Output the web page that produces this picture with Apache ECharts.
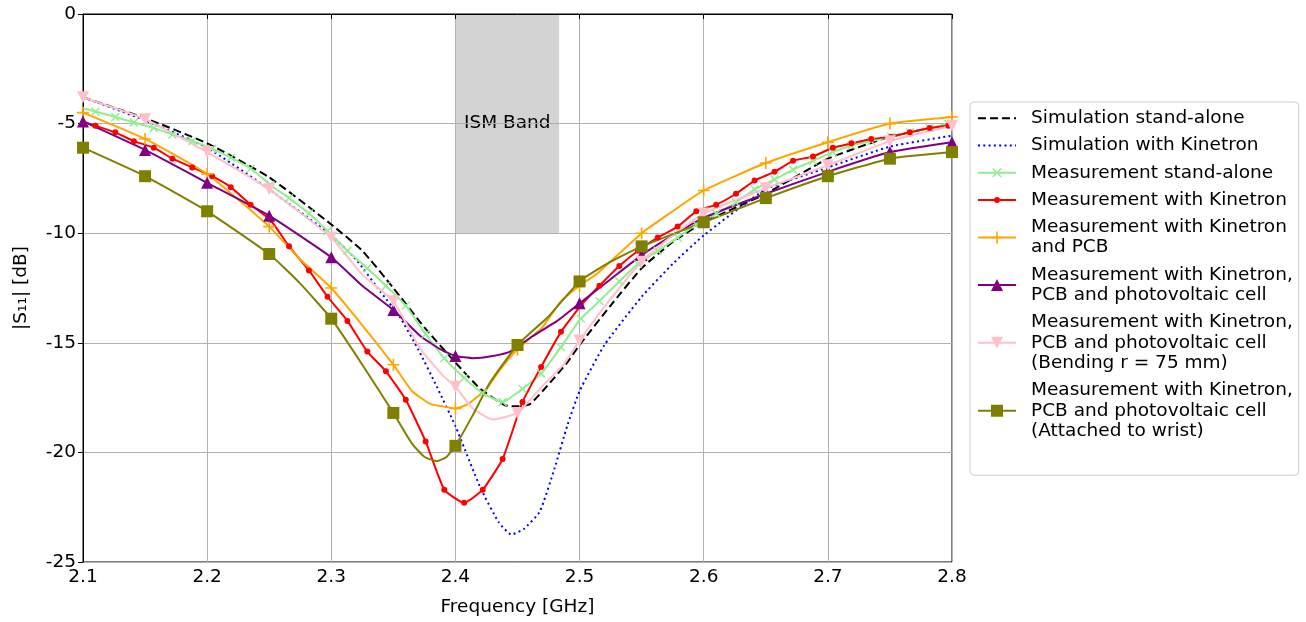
<!DOCTYPE html>
<html>
<head>
<meta charset="utf-8">
<script src="https://cdn.jsdelivr.net/npm/echarts@6/dist/echarts.min.js"></script>
<style>html,body{margin:0;padding:0;background:#fff;}#chart{width:1306px;height:622px;}</style>
</head>
<body>
<div id="chart"></div>
<script>
// ---------------- data (frequency in GHz, |S11| in dB) ----------------
const seriesNames = [
  'Simulation stand-alone',
  'Simulation with Kinetron',
  'Measurement stand-alone',
  'Measurement with Kinetron',
  'Measurement with Kinetron\nand PCB',
  'Measurement with Kinetron,\nPCB and photovoltaic cell',
  'Measurement with Kinetron,\nPCB and photovoltaic cell\n(Bending r = 75 mm)',
  'Measurement with Kinetron,\nPCB and photovoltaic cell\n(Attached to wrist)'
];

const simStandFreq = [2.1, 2.15, 2.2, 2.25, 2.3, 2.325, 2.35, 2.375, 2.4, 2.42, 2.44, 2.45, 2.46, 2.475, 2.49, 2.5, 2.525, 2.55, 2.575, 2.6, 2.65, 2.7, 2.75, 2.8];
const simStandDb   = [-3.8, -4.75, -5.9, -7.45, -9.6, -10.8, -12.5, -14.3, -15.9, -17.1, -17.85, -17.9, -17.8, -16.9, -15.9, -15.1, -13.3, -11.6, -10.4, -9.5, -8.2, -6.6, -5.6, -5.0];

const simKinFreq = [2.1, 2.15, 2.2, 2.25, 2.3, 2.32, 2.34, 2.355, 2.37, 2.385, 2.4, 2.42, 2.435, 2.445, 2.455, 2.468, 2.48, 2.49, 2.5, 2.52, 2.55, 2.575, 2.6, 2.65, 2.7, 2.75, 2.8];
const simKinDb   = [-3.8, -4.85, -6.1, -8.0, -10.1, -11.2, -12.7, -13.8, -15.3, -17.0, -18.8, -21.6, -23.2, -23.75, -23.5, -22.7, -20.7, -18.8, -17.2, -15.1, -12.9, -11.4, -10.1, -8.0, -7.0, -6.05, -5.55];

// measured frequency points (stand-alone and with Kinetron)
const measFreq = [2.1, 2.110, 2.126, 2.141, 2.157, 2.172, 2.188, 2.204, 2.219, 2.235, 2.251, 2.266, 2.282, 2.297, 2.313, 2.329, 2.344, 2.360, 2.376, 2.391, 2.407, 2.422, 2.438, 2.454, 2.469, 2.485, 2.501, 2.516, 2.532, 2.547, 2.563, 2.579, 2.594, 2.610, 2.626, 2.641, 2.657, 2.672, 2.688, 2.704, 2.719, 2.735, 2.751, 2.766, 2.782, 2.797];
const measStandDb = [-4.3, -4.45, -4.7, -4.95, -5.2, -5.5, -5.8, -6.15, -6.55, -7.05, -7.8, -8.4, -9.1, -9.9, -10.8, -11.6, -12.4, -13.3, -14.6, -15.7, -16.6, -17.3, -17.7, -17.1, -16.4, -15.2, -13.9, -13.1, -12.2, -11.4, -10.8, -10.2, -9.6, -9.1, -8.6, -8.0, -7.55, -7.1, -6.7, -6.3, -6.0, -5.8, -5.6, -5.4, -5.2, -5.0];
const measKinDb   = [-4.9, -5.1, -5.4, -5.8, -6.1, -6.6, -7.0, -7.4, -7.9, -8.7, -9.4, -10.6, -11.7, -12.9, -14.0, -15.4, -16.3, -17.6, -19.5, -21.7, -22.3, -21.7, -20.3, -17.7, -16.1, -14.5, -13.3, -12.4, -11.5, -10.8, -10.2, -9.7, -9.0, -8.7, -8.2, -7.6, -7.2, -6.7, -6.5, -6.1, -5.9, -5.7, -5.6, -5.4, -5.2, -5.1];

const pcbFreq = [2.1, 2.15, 2.2, 2.25, 2.275, 2.3, 2.325, 2.35, 2.365, 2.38, 2.39, 2.4, 2.41, 2.425, 2.435, 2.45, 2.47, 2.485, 2.5, 2.515, 2.55, 2.575, 2.6, 2.65, 2.7, 2.75, 2.8];
const pcbDb   = [-4.5, -5.7, -7.3, -9.7, -11.2, -12.5, -14.2, -16.0, -17.2, -17.8, -17.9, -18.0, -17.8, -17.1, -16.3, -15.3, -14.3, -13.1, -12.4, -11.8, -10.0, -9.0, -8.05, -6.8, -5.85, -5.0, -4.7];

const pvFreq = [2.1, 2.15, 2.2, 2.25, 2.3, 2.325, 2.35, 2.372, 2.388, 2.4, 2.414, 2.43, 2.444, 2.462, 2.482, 2.5, 2.525, 2.55, 2.575, 2.6, 2.65, 2.7, 2.75, 2.8];
const pvDb   = [-4.9, -6.2, -7.7, -9.2, -11.1, -12.4, -13.5, -14.7, -15.3, -15.6, -15.7, -15.6, -15.4, -14.7, -14.0, -13.2, -12.1, -11.0, -10.1, -9.3, -8.2, -7.2, -6.3, -5.85];

const bendFreq = [2.1, 2.15, 2.2, 2.25, 2.3, 2.325, 2.35, 2.372, 2.39, 2.4, 2.414, 2.43, 2.45, 2.468, 2.487, 2.5, 2.525, 2.55, 2.575, 2.6, 2.65, 2.7, 2.75, 2.8];
const bendDb   = [-3.8, -4.8, -6.3, -8.0, -10.2, -11.9, -13.1, -15.3, -16.5, -17.0, -18.0, -18.5, -18.2, -17.1, -16.0, -14.9, -13.0, -11.3, -10.1, -9.1, -7.95, -6.9, -5.8, -5.1];

const wristFreq = [2.1, 2.15, 2.2, 2.25, 2.275, 2.3, 2.325, 2.35, 2.365, 2.375, 2.385, 2.393, 2.4, 2.414, 2.428, 2.45, 2.475, 2.5, 2.525, 2.55, 2.6, 2.65, 2.7, 2.75, 2.8];
const wristDb   = [-6.1, -7.4, -9.0, -10.95, -12.3, -13.9, -16.0, -18.2, -19.6, -20.2, -20.4, -20.2, -19.7, -18.3, -16.8, -15.1, -13.8, -12.2, -11.3, -10.6, -9.5, -8.4, -7.4, -6.6, -6.3];

const ismBand = [2.4, 2.4835];   // GHz
const ismLevels = [0, -10];      // dB
const ismLabel = 'ISM Band';

// ---------------- chart ----------------
const FONT = 'DejaVu Sans';
const FS = 18.5;
const every005 = f => Math.abs(f * 20 - Math.round(f * 20)) < 1e-6;
const allButFirst = (f, i) => i > 0;
const none = () => false;

function build(freq, db, isMark) {
  return freq.map((f, i) => isMark(f, i) ? [f, db[i]] : { value: [f, db[i]], symbol: 'none' });
}

const plusPath = 'path://M-0.8,-6H0.8V6H-0.8Z M-6,-0.8H6V0.8H-6Z';
// small dot (diameter = half the symbol box)
const dotPath = 'path://M0,0L0.01,0L0,0.01Z M12,12L11.99,12L12,11.99Z M3,6A3,3,0,1,0,9,6A3,3,0,1,0,3,6Z';

function lineSeries(name, freq, db, isMark, color, extra) {
  return Object.assign({
    type: 'line',
    name: name,
    data: build(freq, db, isMark),
    showSymbol: true,
    showAllSymbol: true,
    smooth: 0.15,
    lineStyle: { color: color, width: 2 },
    itemStyle: { color: color },
    symbol: 'none',
    emphasis: { disabled: true },
    silent: true
  }, extra || {});
}

const series = [
  lineSeries(seriesNames[0], simStandFreq, simStandDb, none, '#000000',
    { lineStyle: { color: '#000', width: 2, type: [8, 4] },
      markArea: {
        silent: true, z: -1,
        itemStyle: { color: '#d3d3d3' },
        label: { show: true, position: 'inside', color: '#000', fontFamily: FONT, fontSize: FS },
        data: [[{ name: ismLabel, xAxis: ismBand[0], yAxis: ismLevels[0] }, { xAxis: ismBand[1], yAxis: ismLevels[1] }]]
      } }),
  lineSeries(seriesNames[1], simKinFreq, simKinDb, none, '#0000ff',
    { lineStyle: { color: '#0000ff', width: 2, type: [2, 3.3] } }),
  lineSeries(seriesNames[2], measFreq, measStandDb, allButFirst, '#90ee90',
    { symbol: plusPath, symbolRotate: 45, symbolSize: 11 }),
  lineSeries(seriesNames[3], measFreq, measKinDb, allButFirst, '#ff0000',
    { symbol: dotPath, symbolSize: 12 }),
  lineSeries(seriesNames[4], pcbFreq, pcbDb, every005, '#ffa500',
    { symbol: plusPath, symbolSize: 12 }),
  lineSeries(seriesNames[5], pvFreq, pvDb, every005, '#800080',
    { symbol: 'triangle', symbolSize: 12 }),
  lineSeries(seriesNames[6], bendFreq, bendDb, every005, '#ffc0cb',
    { symbol: 'triangle', symbolRotate: 180, symbolSize: 12 }),
  lineSeries(seriesNames[7], wristFreq, wristDb, every005, '#808000',
    { symbol: 'rect', symbolSize: 12 })
];

const chart = echarts.init(document.getElementById('chart'), null, { renderer: 'canvas' });
chart.setOption({
  animation: false,
  backgroundColor: '#ffffff',
  textStyle: { fontFamily: FONT },
  grid: { left: 83, right: 354, top: 14, bottom: 58, show: true, borderColor: '#000', borderWidth: 1, backgroundColor: 'transparent' },
  xAxis: {
    type: 'value', min: 2.1, max: 2.8, interval: 0.1,
    name: 'Frequency [GHz]', nameLocation: 'middle', nameGap: 36,
    nameTextStyle: { fontFamily: FONT, fontSize: FS, color: '#000' },
    axisLine: { show: true, lineStyle: { color: '#000', width: 1 } },
    axisTick: { show: true, length: 5, lineStyle: { color: '#000' } },
    axisLabel: { fontFamily: FONT, fontSize: FS, color: '#000', margin: 6, formatter: v => v.toFixed(1) },
    splitLine: { show: true, lineStyle: { color: '#b0b0b0', width: 1 } }
  },
  yAxis: {
    type: 'value', min: -25, max: 0, interval: 5,
    name: '|S₁₁| [dB]', nameLocation: 'middle', nameGap: 52,
    nameTextStyle: { fontFamily: FONT, fontSize: FS, color: '#000' },
    axisLine: { show: true, lineStyle: { color: '#000', width: 1 } },
    axisTick: { show: true, length: 5, lineStyle: { color: '#000' } },
    axisLabel: { fontFamily: FONT, fontSize: FS, color: '#000', margin: 7 },
    splitLine: { show: true, lineStyle: { color: '#b0b0b0', width: 1 } }
  },
  legend: {
    orient: 'vertical', left: 970, top: 102,
    padding: [6, 6, 34, 7], itemGap: 7, itemWidth: 38, itemHeight: 15,
    backgroundColor: '#fff', borderColor: '#cccccc', borderWidth: 1, borderRadius: 4,
    selectedMode: false,
    textStyle: { fontFamily: FONT, fontSize: FS, color: '#000', lineHeight: 20.3, padding: [0, 0, 0, 10] },
    data: seriesNames.map((n, i) => i < 2 ? { name: n, itemStyle: { opacity: 0 } } : n)
  },
  series: series
});
</script>
</body>
</html>
